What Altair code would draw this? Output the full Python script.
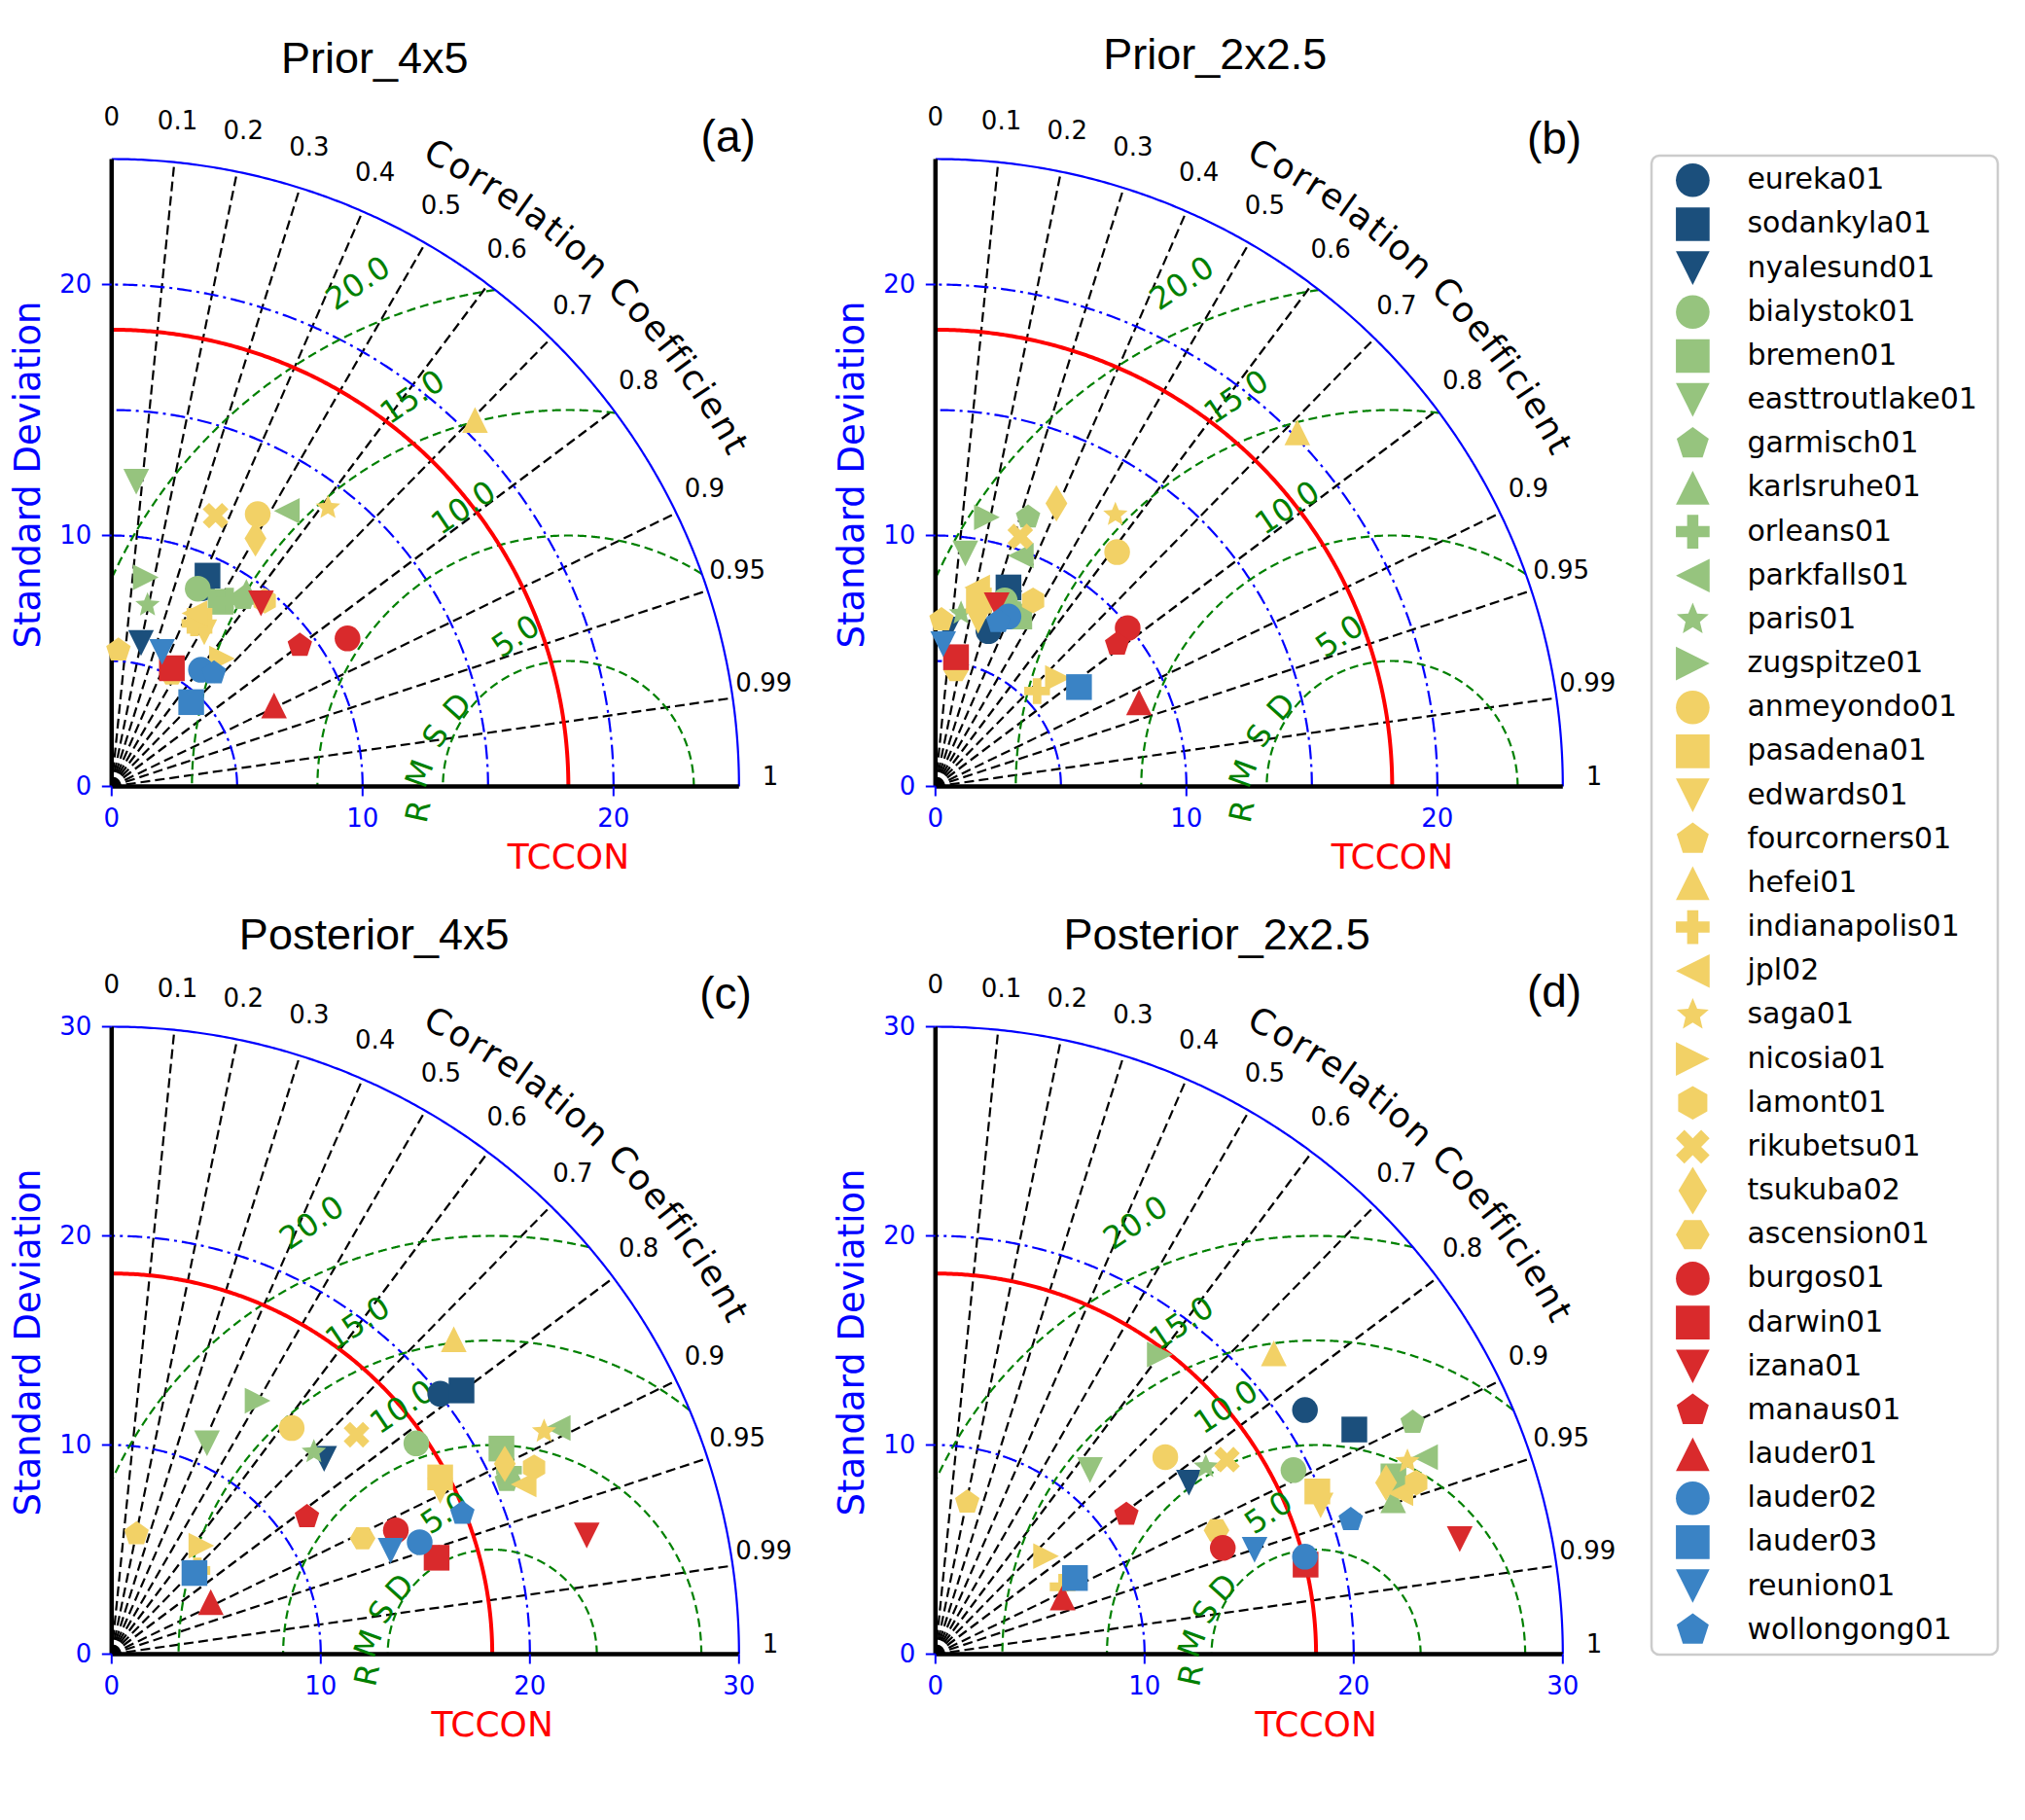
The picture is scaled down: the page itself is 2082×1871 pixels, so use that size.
import math
import numpy as np
import pandas as pd
import altair as alt

# ---------------- data ----------------
stations = ["eureka01", "sodankyla01", "nyalesund01", "bialystok01", "bremen01",
            "easttroutlake01", "garmisch01", "karlsruhe01", "orleans01", "parkfalls01",
            "paris01", "zugspitze01", "anmeyondo01", "pasadena01", "edwards01",
            "fourcorners01", "hefei01", "indianapolis01", "jpl02", "saga01", "nicosia01",
            "lamont01", "rikubetsu01", "tsukuba02", "ascension01", "burgos01", "darwin01",
            "izana01", "manaus01", "lauder01", "lauder02", "lauder03", "reunion01",
            "wollongong01"]
markers = ["o", "s", "v",
           "o", "s", "v", "p", "^", "P", "<", "*", ">",
           "o", "s", "v", "p", "^", "P", "<", "*", ">", "h", "X", "d", "H",
           "o", "s", "v", "p", "^",
           "o", "s", "v", "p"]
DARK, GREEN, YELLOW, RED, BLUE = "#1b4f7c", "#96c47e", "#f2d166", "#d92a2c", "#3a83c5"
station_colors = [DARK] * 3 + [GREEN] * 9 + [YELLOW] * 13 + [RED] * 5 + [BLUE] * 4

panel_titles = ["Prior_4x5", "Prior_2x2.5", "Posterior_4x5", "Posterior_2x2.5"]
panel_tags = ["(a)", "(b)", "(c)", "(d)"]
max_std = [25, 25, 30, 30]
std_ticks = [[0, 10, 20], [0, 10, 20], [0, 10, 20, 30], [0, 10, 20, 30]]
std_grid = [[5, 10, 15, 20], [5, 10, 15, 20], [10, 20], [10, 20]]
ref_std = 18.2
rmsd_levels = [5, 10, 15, 20]
corr_lines = [0.1, 0.2, 0.3, 0.4, 0.5, 0.6, 0.7, 0.8, 0.9, 0.95, 0.99]
corr_labels = [0.0, 0.1, 0.2, 0.3, 0.4, 0.5, 0.6, 0.7, 0.8, 0.9, 0.95, 0.99, 1.0]

# positions of every station: x = std*corr, y = std*sqrt(1-corr^2)
prior_4x5_x = [3.6, 3.82, 1.17, 3.43, 4.34, 0.98, 5.24, 5.37, 4.7, 6.98, 1.43, 1.36, 5.82,
               3.5, 3.69, 0.27, 14.48, 3.3, 3.3, 8.62, 4.4, 6.1, 4.14, 5.73, 2.4, 9.4, 2.4,
               5.95, 7.5, 6.47, 3.56, 3.17, 2.01, 4.08]
prior_4x5_y = [7.9, 8.40, 5.72, 7.88, 7.36, 12.14, 7.49, 7.75, 7.4, 10.98, 7.23, 8.33, 10.85,
               6.6, 6.14, 5.43, 14.6, 6.5, 6.9, 11.11, 5.1, 7.4, 10.79, 9.88, 4.5, 5.9, 4.71,
               7.30, 5.62, 3.23, 4.65, 3.36, 5.36, 4.52]
prior_2x25_x = [2.11, 2.91, 0.5, 2.76, 3.34, 1.19, 3.69, 3.3, 2.9, 3.4, 1.02, 2.05, 7.24,
                1.73, 1.7, 0.24, 14.42, 4.05, 1.66, 7.17, 4.88, 3.89, 3.38, 4.82, 0.82, 7.66,
                0.82, 2.44, 7.24, 8.11, 2.91, 5.72, 0.31, 2.5]
prior_2x25_y = [6.19, 7.93, 6.25, 7.41, 6.77, 9.28, 10.73, 6.9, 7.2, 9.2, 6.9, 10.73, 9.34,
                7.41, 6.6, 6.64, 14.11, 3.8, 7.93, 10.83, 4.32, 7.41, 9.96, 11.28, 4.64, 6.31,
                5.15, 7.22, 5.67, 3.35, 6.77, 3.96, 5.67, 6.57]
post_4x5_x = [15.71, 16.73, 10.16, 14.57, 18.64, 4.56, 18.9, 19.13, 19.0, 21.33, 9.67, 6.98,
              8.61, 15.71, 15.71, 1.19, 16.36, 4.1, 19.7, 20.68, 4.29, 20.2, 11.71, 18.8, 12.0,
              13.59, 15.54, 22.72, 9.34, 4.74, 14.73, 3.96, 13.34, 16.77]
post_4x5_y = [12.45, 12.61, 9.34, 10.08, 9.83, 10.08, 8.3, 8.61, 8.8, 10.81, 9.67, 12.12,
              10.81, 8.45, 7.8, 5.75, 15.06, 4.0, 8.12, 10.65, 5.19, 8.93, 10.49, 9.1, 5.54,
              5.92, 4.61, 5.67, 6.57, 2.49, 5.35, 3.88, 4.94, 6.73]
post_2x25_x = [17.67, 20.03, 12.12, 17.12, 21.9, 7.39, 22.82, 21.89, 21.9, 23.41, 12.93, 10.73,
               10.99, 18.26, 18.42, 1.52, 16.18, 6.08, 22.23, 22.57, 5.29, 22.99, 13.94, 21.55,
               13.44, 13.74, 17.7, 25.07, 9.13, 6.08, 17.67, 6.67, 15.26, 19.86]
post_2x25_y = [11.67, 10.74, 8.2, 8.8, 8.5, 8.8, 11.08, 7.36, 8.0, 9.42, 8.96, 14.33, 9.42,
               7.78, 7.11, 7.27, 14.38, 3.22, 7.7, 9.22, 4.69, 8.2, 9.3, 8.2, 5.92, 5.08, 4.28,
               5.5, 6.68, 2.71, 4.66, 3.64, 4.99, 6.43]
panel_x = [prior_4x5_x, prior_2x25_x, post_4x5_x, post_2x25_x]
panel_y = [prior_4x5_y, prior_2x25_y, post_4x5_y, post_2x25_y]

# ---------------- marker shapes (matplotlib-like) ----------------
def _path(pts):
    return "M" + "L".join(f"{x:.3f},{y:.3f}" for x, y in pts) + "Z"

def _poly(n, start):
    return _path([(math.cos(math.radians(start + i * 360 / n)),
                   -math.sin(math.radians(start + i * 360 / n))) for i in range(n)])

def _star(n=5, inner=0.45):
    pts = []
    for i in range(2 * n):
        a = math.radians(90 + i * 180 / n)
        r = 1 if i % 2 == 0 else inner
        pts.append((r * math.cos(a), -r * math.sin(a)))
    return _path(pts)

_a = 1 / 3
shape_paths = {
    "o": "circle", "s": "square",
    "v": "M-1,-1L1,-1L0,1Z", "^": "M0,-1L1,1L-1,1Z",
    "<": "M-1,0L1,-1L1,1Z", ">": "M1,0L-1,-1L-1,1Z",
    "p": _poly(5, 90), "h": _poly(6, 90), "H": _poly(6, 0), "*": _star(),
    "P": _path([(-_a, -1), (_a, -1), (_a, -_a), (1, -_a), (1, _a), (_a, _a), (_a, 1),
                (-_a, 1), (-_a, _a), (-1, _a), (-1, -_a), (-_a, -_a)]),
    "X": _path([(-0.5, -1), (0, -0.5), (0.5, -1), (1, -0.5), (0.5, 0), (1, 0.5), (0.5, 1),
                (0, 0.5), (-0.5, 1), (-1, 0.5), (-0.5, 0), (-1, -0.5)]),
    "d": "M0,-1.414L0.849,0L0,1.414L-0.849,0Z",
}
shape_range = [shape_paths[m] for m in markers]

# ---------------- layout (pixels) ----------------
PANEL_W = [847, 841, 847, 841]   # left / right column widths
H = 892
OX, OY = 106.8, 800.5    # origin inside a panel
RPX = 645.0              # radius of the outer arc in pixels
title_pos = [(377.2, 66.6), (394.2, 62.6), (376.7, 76.3), (396.2, 76.3)]
tag_pos = [(740.7, 134.0), (743.0, 135.5), (738.0, 123.4), (743.0, 120.6)]
rmsd_label_xy = {25: [(16.12, 5.96), (14.04, 11.08), (12.0, 15.49), (9.83, 20.03)],
                 30: [(15.95, 6.73), (13.91, 11.79), (11.79, 15.79), (9.59, 20.6)]}
rmsd_letters = [("R", 12.25, -1.0, 282), ("M", 12.3, 0.5, 290),
                ("S", 12.93, 2.0, 302), ("D", 13.8, 3.15, 312)]
dv_w = {"C": .698, "o": .612, "r": .411, "e": .615, "l": .278, "a": .613, "t": .392,
        "i": .278, "n": .634, " ": .318, "f": .352, "c": .550}

DV = "DejaVu Sans"
LS = "Liberation Sans"


def build_panel(p):
    R = max_std[p]
    k = RPX / R
    W = PANEL_W[p]
    sx = alt.Scale(domain=[-OX / k, (W - OX) / k], nice=False, zero=False)
    sy = alt.Scale(domain=[-(H - OY) / k, OY / k], nice=False, zero=False)
    X = alt.X("x:Q", scale=sx, axis=None)
    Y = alt.Y("y:Q", scale=sy, axis=None)

    def P(px, py):
        return (px - OX) / k, (OY - py) / k

    def line_layer(segs, **mk):
        rows = []
        for g, xa, ya in segs:
            for i, (a, b) in enumerate(zip(xa, ya)):
                rows.append({"g": g, "i": i, "x": float(a), "y": float(b)})
        return alt.Chart(pd.DataFrame(rows)).mark_line(**mk).encode(
            x=X, y=Y, order="i:Q", detail="g:N")

    th = np.linspace(0, np.pi / 2, 300)
    radial = [(f"c{c}", [0, R * c], [0, R * math.sqrt(1 - c * c)]) for c in corr_lines]
    grid = [(f"s{r}", r * np.cos(th), r * np.sin(th)) for r in std_grid[p]]
    rm = []
    for r in rmsd_levels:
        ph = np.linspace(0, np.pi, 2000)
        xa = ref_std + r * np.cos(ph)
        ya = r * np.sin(ph)
        m = (xa >= 0) & (np.hypot(xa, ya) <= R)
        rm.append((f"r{r}", xa[m], ya[m]))
    ref = [("ref", ref_std * np.cos(th), ref_std * np.sin(th))]
    outer = [("out", R * np.cos(th), R * np.sin(th))]

    layers = [
        line_layer(radial, color="black", strokeWidth=2.2, strokeDash=[10, 5]),
        line_layer(grid, color="#0000ff", strokeWidth=2.2, strokeDash=[15, 5, 3, 5]),
        line_layer(rm, color="#008000", strokeWidth=2.2, strokeDash=[9, 5]),
        line_layer(ref, color="#ff0000", strokeWidth=4),
        line_layer(outer, color="#0000ff", strokeWidth=2.2),
    ]

    axes_df = pd.DataFrame({"x": [0, 0], "y": [0, 0], "x2": [R, 0], "y2": [0, R]})
    layers.append(alt.Chart(axes_df).mark_rule(color="black", strokeWidth=4.5).encode(
        x=X, y=Y, x2="x2:Q", y2="y2:Q"))
    tl = 10 / k
    tick_df = pd.DataFrame(
        [{"x": 0, "x2": -tl, "y": v, "y2": v} for v in std_ticks[p]] +
        [{"x": v, "x2": v, "y": 0, "y2": -tl} for v in std_ticks[p]])
    layers.append(alt.Chart(tick_df).mark_rule(color="#0000ff", strokeWidth=2).encode(
        x=X, y=Y, x2="x2:Q", y2="y2:Q"))

    # ---- texts ----
    items = []

    def T(x, y, text, size, color, font=DV, align="center", baseline="middle", angle=0):
        items.append(dict(x=x, y=y, text=text, size=size, color=color, font=font,
                          align=align, baseline=baseline, angle=angle))

    tx, ty = P(*title_pos[p])
    T(tx, ty, panel_titles[p], 45, "black", LS, "center", "alphabetic")
    gx, gy = P(*tag_pos[p])
    T(gx, gy, panel_tags[p], 46, "black", LS)
    lx, ly = P(21.5, 480)
    T(lx, ly, "Standard Deviation", 37, "#0000ff", angle=270)
    T(ref_std, -84 / k, "TCCON", 36, "#ff0000", baseline="alphabetic")
    for v in std_ticks[p]:
        T(-20.4 / k, v, str(v), 26, "#0000ff", align="right")
        T(v, -41.3 / k, str(v), 26, "#0000ff", baseline="alphabetic")
    for c in corr_labels:
        a = math.acos(c)
        lab = "0" if c == 0 else ("1" if c == 1 else f"{c:g}")
        T(1.05 * R * math.cos(a), 1.05 * R * math.sin(a) + 10 / k, lab, 26, "black")
    word = "Correlation Coefficient"
    adv = [dv_w[ch] for ch in word]
    cum = np.cumsum([0] + adv[:-1]) + np.array(adv) / 2
    s0, s1 = cum[0], cum[-1]
    for ch, s in zip(word, cum):
        if ch == " ":
            continue
        ang = 62.7 + (s - s0) / (s1 - s0) * (28.7 - 62.7)
        rr = 1.132 * R
        T(rr * math.cos(math.radians(ang)), rr * math.sin(math.radians(ang)), ch, 36,
          "black", angle=90 - ang)
    for lvl, (x, y) in zip(rmsd_levels, rmsd_label_xy[R]):
        T(x, y, f"{lvl:.1f}", 32, "#008000", angle=326)
    for ch, x, y, ang in rmsd_letters:
        T(x, y, ch, 32, "#008000", angle=ang)

    tdf = pd.DataFrame(items)
    for (color, font, align, baseline), g in tdf.groupby(["color", "font", "align", "baseline"]):
        layers.append(alt.Chart(g.reset_index(drop=True)).mark_text(
            color=color, font=font, align=align, baseline=baseline).encode(
            x=X, y=Y, text="text:N",
            angle=alt.Angle("angle:Q", scale=None),
            size=alt.Size("size:Q", scale=None)))

    pts = pd.DataFrame({"station": stations, "x": panel_x[p], "y": panel_y[p],
                        "ord": list(range(len(stations)))})
    layers.append(alt.Chart(pts).mark_point(filled=True, opacity=1, size=700, strokeWidth=0).encode(
        x=X, y=Y,
        shape=alt.Shape("station:N", scale=alt.Scale(domain=stations, range=shape_range), legend=None),
        color=alt.Color("station:N", scale=alt.Scale(domain=stations, range=station_colors), legend=None),
        order=alt.Order("ord:Q")))

    return alt.layer(*layers).properties(width=W, height=H)


panels = [build_panel(p) for p in range(4)]

# ---------------- legend ----------------
LEG_W, LEG_H = 356, 1541
leg_df = pd.DataFrame({"station": stations})
ly_enc = alt.Y("station:N", sort=stations, scale=alt.Scale(domain=stations, padding=0.56), axis=None)
leg_pts = alt.Chart(leg_df).mark_point(filled=True, opacity=1, size=1200, strokeWidth=0).encode(
    x=alt.value(42.4), y=ly_enc,
    shape=alt.Shape("station:N", scale=alt.Scale(domain=stations, range=shape_range), legend=None),
    color=alt.Color("station:N", scale=alt.Scale(domain=stations, range=station_colors), legend=None))
leg_txt = alt.Chart(leg_df).mark_text(align="left", baseline="middle", font=DV, fontSize=30,
                                      color="black").encode(
    x=alt.value(98.4), y=ly_enc, text="station:N")
legend = alt.layer(leg_pts, leg_txt).properties(
    width=LEG_W, height=LEG_H,
    view=alt.ViewBackground(stroke="#cccccc", strokeWidth=2.5, cornerRadius=8, fill="white"))
spacer = alt.Chart(pd.DataFrame({"v": [0]})).mark_text(text="", opacity=0).encode(
    x=alt.value(100), y=alt.value(70)).properties(width=LEG_W, height=150)
legend_col = alt.vconcat(spacer, legend, spacing=0)

grid = alt.vconcat(alt.hconcat(panels[0], panels[1], spacing=0),
                   alt.hconcat(panels[2], panels[3], spacing=0),
                   spacing=0)

chart = alt.hconcat(grid, legend_col, spacing=0).properties(
    padding=0, background="white").configure_view(strokeWidth=0)

chart.save("out.html", embed_options={"renderer": "svg", "actions": False})
